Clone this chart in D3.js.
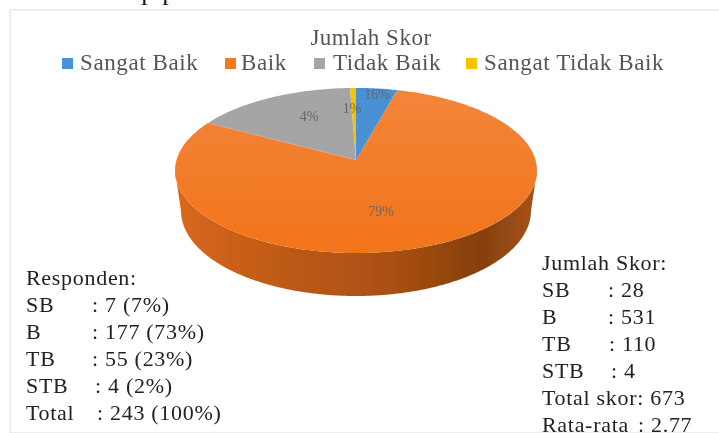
<!DOCTYPE html>
<html>
<head>
<meta charset="utf-8">
<script src="https://cdn.jsdelivr.net/npm/d3@7/dist/d3.min.js"></script>
<style>
  html, body { margin: 0; padding: 0; background: #fff; }
  svg { display: block; }
  text { font-family: "Liberation Serif", serif; }
</style>
</head>
<body>
<svg id="chart" width="719" height="433"></svg>
<script>
const categories = ["Sangat Baik", "Baik", "Tidak Baik", "Sangat Tidak Baik"];
const scores = [28, 531, 110, 4];
const sliceLabels = ["16%", "79%", "4%", "1%"];
const colors = ["#4a90d4", "#f47a22", "#a5a5a5", "#f5c400"];

const respondenNames = ["Responden:", "SB", "B", "TB", "STB", "Total"];
const respondenValues = ["", ": 7 (7%)", ": 177 (73%)", ": 55 (23%)", ": 4 (2%)", ": 243 (100%)"];
const skorNames = ["Jumlah Skor:", "SB", "B", "TB", "STB", "Total skor: 673", "Rata-rata"];
const skorValues = ["", ": 28", ": 531", ": 110", ": 4", "", ": 2.77"];

const svg = d3.select("#chart");

const defs = svg.append("defs");
const soft = defs.append("filter").attr("id", "soft");
soft.append("feGaussianBlur").attr("stdDeviation", 0.7);
const softText = defs.append("filter").attr("id", "softText")
  .attr("x", -0.05).attr("y", -0.05).attr("width", 1.1).attr("height", 1.1);
softText.append("feGaussianBlur").attr("stdDeviation", 0.5);

const topGrad = defs.append("linearGradient").attr("id", "topFace")
  .attr("x1", 0).attr("y1", 0).attr("x2", 0).attr("y2", 1);
topGrad.append("stop").attr("offset", "0%").attr("stop-color", "#f3853a");
topGrad.append("stop").attr("offset", "100%").attr("stop-color", "#f2741a");

const sideGrad = defs.append("linearGradient").attr("id", "sideFace")
  .attr("x1", 0).attr("y1", 0).attr("x2", 1).attr("y2", 0);
[["0%", "#d9681c"], ["30%", "#bd5a17"], ["60%", "#a94f12"], ["85%", "#85400f"], ["100%", "#a9531a"]]
  .forEach(s => sideGrad.append("stop").attr("offset", s[0]).attr("stop-color", s[1]));

// card behind the chart
svg.append("rect").attr("x", 10).attr("y", 10).attr("width", 712).attr("height", 423)
  .attr("fill", "#fff").attr("stroke", "#e6e8ec").attr("stroke-width", 1.5).attr("filter", "url(#soft)");

// running text cut off by the top of the picture
svg.append("text").attr("x", 30).attr("y", 0)
  .attr("font-size", 26).attr("fill", "#111")
  .attr("textLength", 635)
  .text("rater hadap perubahan sebaran nilai adalah nilai rata-rata");

// pie seen in perspective: the apex sits above the middle of the ellipse
const cx = 356, apexY = 160, A = 179.5, B = 81.2, k = 0.127, steps = 720;
function project(a, r) {
  const u = r * Math.sin(a), v = -r * Math.cos(a), w = 1 - k * v;
  return [cx + A * u / w, apexY + B * v / w];
}
// bottom rim is a bit narrower than the top one
const rimX = d3.scaleLinear().domain([cx - 181, cx + 181]).range([cx - 175, cx + 175]);
const rimY = d3.scaleLinear().domain([88, 253]).range([126, 296]);

const pie = d3.pie().sort(null)(scores);
const g = svg.append("g").attr("filter", "url(#soft)");
const line = d3.line();

function wedge(d) {
  const pts = [project(0, 0)];
  for (let a = d.startAngle; a < d.endAngle; a += 0.01) pts.push(project(a, 1));
  pts.push(project(d.endAngle, 1));
  return line(pts) + "Z";
}

// side wall, only the front half shows
const rim = d3.range(steps).map(i => project(i / steps * 2 * Math.PI, 1));
const iRight = d3.maxIndex(rim, p => p[0]), iLeft = d3.minIndex(rim, p => p[0]);
const front = rim.slice(iRight, iLeft + 1);
const wall = front.concat(front.slice().reverse().map(p => [rimX(p[0]), rimY(p[1])]));
g.append("path").attr("d", line(wall) + "Z").attr("fill", "url(#sideFace)");

g.selectAll("path.slice").data(pie).join("path")
  .attr("class", "slice")
  .attr("d", wedge)
  .attr("fill", (d, i) => i === 1 ? "url(#topFace)" : colors[i]);

const words = svg.append("g").attr("filter", "url(#softText)");

// slice labels
const labelPos = [[377, 99], [381, 216], [309, 121], [352, 113]];
words.selectAll("text.lab").data(sliceLabels).join("text")
  .attr("class", "lab")
  .attr("x", (d, i) => labelPos[i][0]).attr("y", (d, i) => labelPos[i][1])
  .attr("text-anchor", "middle").attr("font-size", 14).attr("fill", "#666")
  .text(d => d);

// title
words.append("text").attr("x", 371).attr("y", 45).attr("text-anchor", "middle")
  .attr("font-size", 23).attr("letter-spacing", 0.5).attr("fill", "#555").text("Jumlah Skor");

// legend
const legendMark = [62, 225, 314, 466], legendText = [80, 241, 333, 484];
categories.forEach((c, i) => {
  words.append("rect").attr("x", legendMark[i]).attr("y", 58).attr("width", 11).attr("height", 11)
    .attr("fill", colors[i]);
  words.append("text").attr("x", legendText[i]).attr("y", 70)
    .attr("font-size", 23).attr("letter-spacing", 0.6).attr("fill", "#555").text(c);
});

function block(names, values, nameX, valueX, y0, step) {
  names.forEach((n, i) => {
    words.append("text").attr("x", nameX).attr("y", y0 + i * step)
      .attr("font-size", 22).attr("letter-spacing", 0.7).attr("fill", "#222").text(n);
    if (values[i]) words.append("text").attr("x", valueX[i]).attr("y", y0 + i * step)
      .attr("font-size", 22).attr("letter-spacing", 0.7).attr("fill", "#222").text(values[i]);
  });
}
block(respondenNames, respondenValues, 26, [0, 92, 92, 92, 95, 97], 285, 27);
block(skorNames, skorValues, 542, [0, 608, 608, 609, 611, 0, 638], 270, 27);
</script>
</body>
</html>
